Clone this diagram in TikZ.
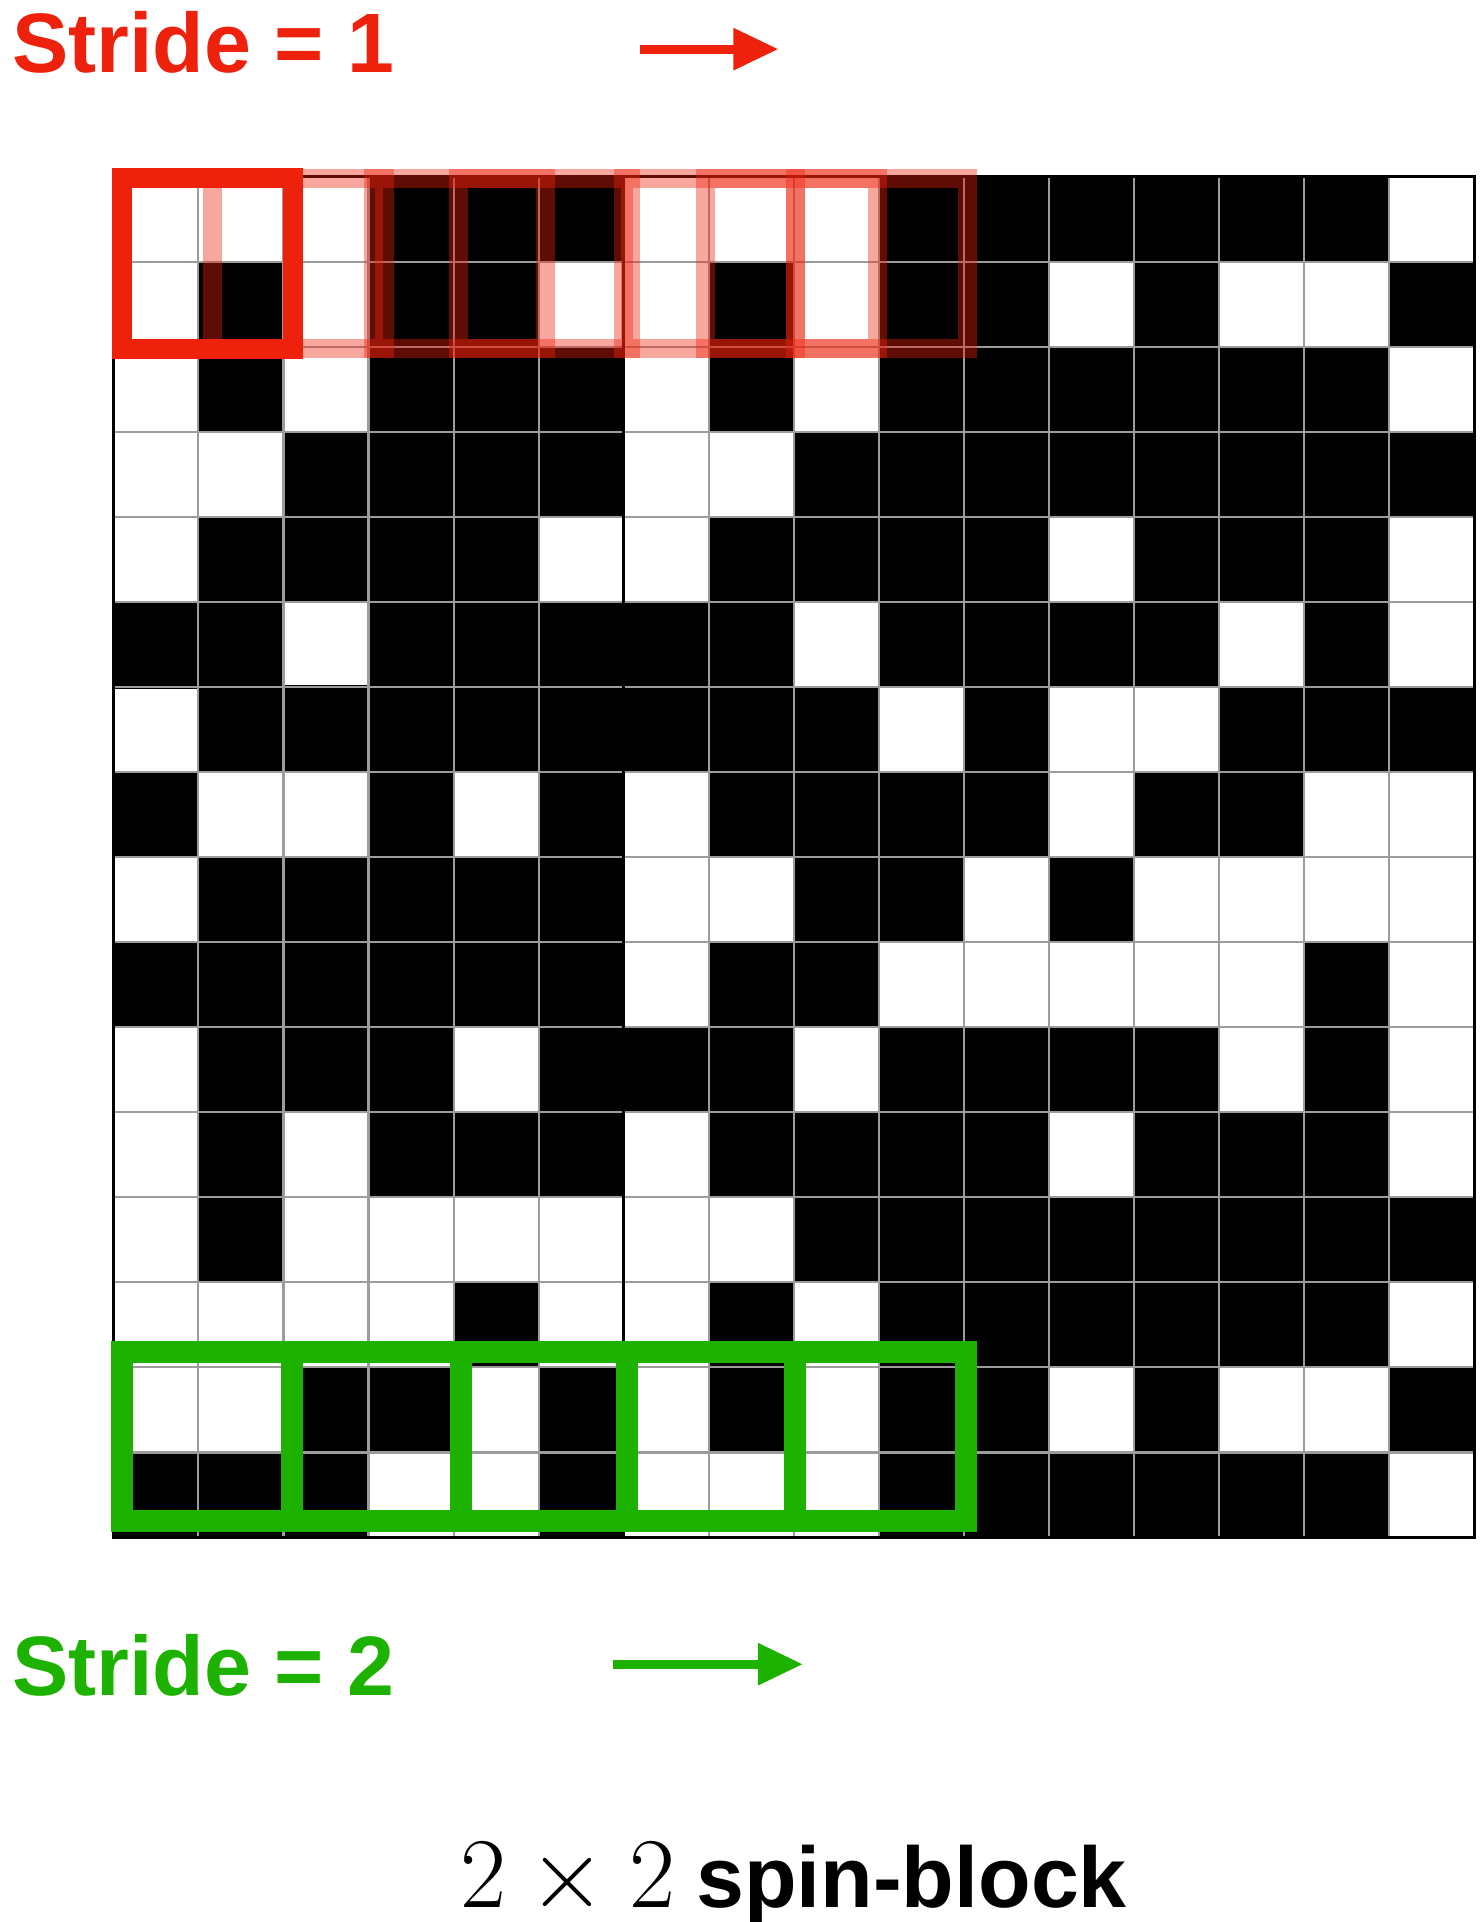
\RequirePackage{fix-cm}
\documentclass[tikz,border=0pt]{standalone}
\usepackage{fontspec}
\setsansfont{Liberation Sans}
\usetikzlibrary{arrows.meta}
\definecolor{StrideRed}{HTML}{EE220C}
\definecolor{StrideGreen}{HTML}{1DB100}
\definecolor{GridGray}{HTML}{9C9C9C}
\tikzset{
  spin/.style={fill=black},
  cellline/.style={draw=GridGray, line width=0.6pt},
  border/.style={draw=black, line width=0.9pt},
  redbox/.style={draw=StrideRed, line width=2mm},
  fadebox/.style={draw=StrideRed, draw opacity=0.4, line width=1.9mm},
  greenbox/.style={draw=StrideGreen, line width=2.2mm},
  redarrow/.style={-{Triangle[length=4.5mm, width=4mm]}, line width=0.9mm, draw=StrideRed},
  greenarrow/.style={-{Triangle[length=4.5mm, width=4mm]}, line width=0.9mm, draw=StrideGreen},
  stridelabel/.style={font=\sffamily\bfseries\fontsize{24}{28}\selectfont, inner sep=0pt, anchor=base west}
}

\begin{document}
\begin{tikzpicture}[x=0.8505cm, y=0.8505cm]
\useasboundingbox (-1.333,-4.521) rectangle (16.080,18.078);
\foreach \line [count=\r from 0] in {
  {0,0,0,1,1,1,0,0,0,1,1,1,1,1,1,0},
  {0,1,0,1,1,0,0,1,0,1,1,0,1,0,0,1},
  {0,1,0,1,1,1,0,1,0,1,1,1,1,1,1,0},
  {0,0,1,1,1,1,0,0,1,1,1,1,1,1,1,1},
  {0,1,1,1,1,0,0,1,1,1,1,0,1,1,1,0},
  {1,1,0,1,1,1,1,1,0,1,1,1,1,0,1,0},
  {0,1,1,1,1,1,1,1,1,0,1,0,0,1,1,1},
  {1,0,0,1,0,1,0,1,1,1,1,0,1,1,0,0},
  {0,1,1,1,1,1,0,0,1,1,0,1,0,0,0,0},
  {1,1,1,1,1,1,0,1,1,0,0,0,0,0,1,0},
  {0,1,1,1,0,1,1,1,0,1,1,1,1,0,1,0},
  {0,1,0,1,1,1,0,1,1,1,1,0,1,1,1,0},
  {0,1,0,0,0,0,0,0,1,1,1,1,1,1,1,1},
  {0,0,0,0,1,0,0,1,0,1,1,1,1,1,1,0},
  {0,0,1,1,0,1,0,1,0,1,1,0,1,0,0,1},
  {1,1,1,0,0,1,0,0,0,1,1,1,1,1,1,0}}{
  \foreach \s [count=\c from 0] in \line {
    \ifnum\s=1 \fill[spin] (\c,15-\r) rectangle ++(1,1); \fi
  }
}
\draw[border] (0,10) -- (6,10);
\foreach \i in {1,...,15} {
  \draw[cellline] (\i,0) -- (\i,16);
  \draw[cellline] (0,\i) -- (16,\i);
}
\draw[border] (6,0) -- (6,16);
\draw[border] (0,0) rectangle (16,16);

\foreach \x in {1.165,3.058,4.063,6.003,6.967,8.024}
  \draw[fadebox] (\x,13.98) rectangle ++(2.02,2);
\draw[redbox] (0.103,13.98) rectangle (2.112,15.98);

\foreach \a/\b in {0.098/2.1, 2.1/4.087, 4.087/6.04, 6.04/8.01, 8.01/10.03}
  \draw[greenbox] (\a,0.19) rectangle (\b,2.18);

\node[stridelabel, text=StrideRed] (strideone) at (-1.20,17.23) {Stride = 1};
\coordinate (redtail) at (6.19,17.50);
\coordinate (redtip) at (7.82,17.50);
\draw[redarrow] (redtail) -- (redtip);

\node[stridelabel, text=StrideGreen] (stridetwo) at (-1.20,-1.86) {Stride = 2};
\coordinate (greentail) at (5.874,-1.49);
\coordinate (greentip) at (8.108,-1.49);
\draw[greenarrow] (greentail) -- (greentip);

\node[anchor=base, inner sep=0pt] (blocklabel) at (8,-4.345)
  {\fontsize{28.5}{34}\selectfont$2\times2$\hspace{6pt}\sffamily\bfseries\fontsize{24.5}{29}\selectfont spin-block};
\end{tikzpicture}
\end{document}
